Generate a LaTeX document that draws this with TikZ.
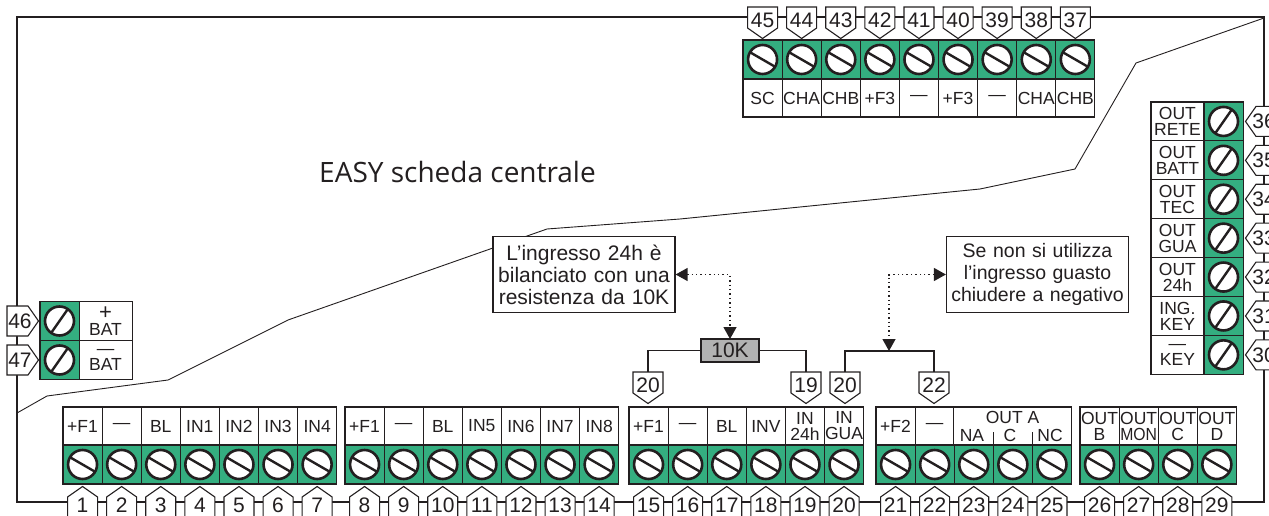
\documentclass[tikz,border=0pt]{standalone}
\usepackage{fontspec}
\setmainfont{Liberation Sans}
\newfontfamily\titlefont{Open Sans}
\usetikzlibrary{positioning,arrows.meta}
\definecolor{termgreen}{HTML}{34AE80}
\definecolor{inkdark}{HTML}{231F20}
\tikzset{
  cellbase/.style={draw=inkdark,line width=1.1pt,inner sep=0pt,outer sep=0pt},
  greencell/.style={cellbase,fill=termgreen,minimum width=39.1pt,minimum height=39pt},
  labelbox/.style={cellbase,fill=white,minimum width=39.1pt,minimum height=38pt,text width=39.1pt,
    align=center,font=\fontsize{17.5}{16}\selectfont,text=inkdark},
  sidebox/.style={labelbox,minimum width=53pt,text width=53pt,minimum height=39pt},
  screwa/.style={circle,draw=inkdark,fill=white,line width=2.6pt,minimum size=29pt,inner sep=0pt,
    path picture={\draw[inkdark,line width=2.4pt] (path picture bounding box.150)--(path picture bounding box.-30);}},
  screwb/.style={circle,draw=inkdark,fill=white,line width=2.6pt,minimum size=29pt,inner sep=0pt,
    path picture={\draw[inkdark,line width=2.4pt] (path picture bounding box.55)--(path picture bounding box.-125);}},
  pinline/.style={draw=inkdark,fill=white,line width=1.1pt},
  pintext/.style={inner sep=0pt,outer sep=0pt,minimum width=30pt,minimum height=26pt,
    font=\fontsize{21}{21}\selectfont,text=inkdark},
  plaintext/.style={font=\fontsize{17.5}{16}\selectfont,text=inkdark},
  notebox/.style={draw=inkdark,line width=1.2pt,fill=white,inner sep=0pt,minimum width=182pt,minimum height=75.5pt,
    text width=180pt,align=center,font=\fontsize{21}{22}\selectfont,text=inkdark},
  wire/.style={draw=inkdark,line width=1.3pt},
  dotwire/.style={draw=inkdark,line width=1.3pt,dash pattern=on 1.4pt off 3pt,
    {Triangle[width=13pt,length=12pt]}-{Triangle[width=13pt,length=12pt]}},
}
% name, x, y, turn of the point (0 = down), number
\newcommand{\pinnode}[5]{%
  \draw[pinline,shift={(#2,#3)},rotate=#4] (-15,-13)--(15,-13)--(15,8)--(0,18.5)--(-15,8)--cycle;
  \node[pintext] (#1) at (#2,#3) {#5};}
\begin{document}
\begin{tikzpicture}[x=1pt,y=-1pt]
  \useasboundingbox (0,0) rectangle (1269,516);
  % board outline and edge
  \draw[inkdark,line width=2.8pt] (17,17) rectangle (1264,502);
  \draw[inkdark,line width=0.9pt] (17,413)--(47,396)--(168,380)--(288,320)--(547,229)--(680,219)--(980,189)--(1075,169)--(1136,63)--(1264,18);
  \node[font=\fontsize{28}{30}\selectfont\titlefont,text=inkdark] (title) at (457.5,172) {EASY scheda centrale};
  % bottom row
  \foreach \x/\first/\last in {63/1/7,345/8/14,629/15/20,876/21/25,1080/26/29}{
    \foreach \n in {\first,...,\last}{
      \node[greencell] (grn\n) at ({\x+39.1*(\n-\first+0.5)},464.5) {};
      \node[screwa] (scr\n) at (grn\n) {};
      \pinnode{pin\n}{{\x+39.1*(\n-\first+0.5)}}{505}{180}{\n}
    }
  }
  \foreach \n/\txt in {1/+F1,2/—,3/BL,4/IN1,5/IN2,6/IN3,7/IN4,8/+F1,9/—,10/BL,11/IN5,12/IN6,13/IN7,14/IN8,
    15/+F1,16/—,17/BL,18/INV,19/{IN\\24h},20/{IN\\GUA},21/+F2,22/—,
    26/{OUT\\B},27/{OUT\\\scalebox{0.9}[1]{MON}},28/{OUT\\C},29/{OUT\\D}}{
    \node[labelbox,above=0pt of grn\n] (lab\n) {\txt};
  }
  \node[labelbox,minimum width=117.3pt,text width=117.3pt] (labA) at (1012.5,426) {};
  \node[plaintext] (outa) at (1012.5,417) {OUT A};
  \node[plaintext] (txta) at (972,435) {NA};
  \node[plaintext] (txtb) at (1010,435) {C};
  \node[plaintext] (txtc) at (1050,435) {NC};
  \draw[inkdark,line width=1.1pt] (grn23.north east)--++(0,-13);
  \draw[inkdark,line width=1.1pt] (grn24.north east)--++(0,-13);
  % top row
  \foreach \n/\txt [count=\i] in {45/SC,44/CHA,43/CHB,42/+F3,41/—,40/+F3,39/—,38/CHA,37/CHB}{
    \node[greencell] (grn\n) at ({743+39.1*(\i-0.5)},59.5) {};
    \node[screwa] (scr\n) at (grn\n) {};
    \node[labelbox,below=0pt of grn\n] (lab\n) {\txt};
    \pinnode{pin\n}{{743+39.1*(\i-0.5)}}{20}{0}{\n}
  }
  % right column
  \foreach \n/\txt [count=\i] in {36/{OUT\\RETE},35/{OUT\\BATT},34/{OUT\\TEC},33/{OUT\\GUA},32/{OUT\\24h},31/{ING.\\KEY},30/{—\\KEY}}{
    \node[greencell,minimum height=38.9pt] (grn\n) at (1223.5,{102+38.9*(\i-0.5)}) {};
    \node[screwb] (scr\n) at (grn\n) {};
    \node[sidebox,minimum height=38.9pt,left=0pt of grn\n] (lab\n) {\txt};
    \pinnode{pin\n}{1264}{{102+38.9*(\i-0.5)}}{-90}{\n}
  }
  % battery
  \foreach \n/\txt/\y in {46/{\fontsize{22}{16}\selectfont +}\\BAT/321,47/—\\BAT/360}{
    \node[greencell] (grn\n) at (59.5,\y) {};
    \node[screwb] (scr\n) at (grn\n) {};
    \node[sidebox,right=0pt of grn\n] (lab\n) {\txt};
    \pinnode{pin\n}{20}{\y}{90}{\n}
  }
  % notes and resistor
  \node[notebox] (noteres) at (584,274.5) {L’ingresso 24h è\\bilanciato con una\\resistenza da 10K};
  \node[notebox,font=\fontsize{19.5}{22}\selectfont] (noteguasto) at (1037.5,274.5) {Se non si utilizza\\l’ingresso guasto\\chiudere a negativo};
  \node[cellbase,fill=black!30,minimum width=58pt,minimum height=23pt,font=\fontsize{21}{21}\selectfont,text=inkdark] (res) at (730,350.5) {10K};
  \pinnode{pinresa}{648}{385}{0}{20}
  \pinnode{pinresb}{806}{385}{0}{19}
  \pinnode{pinguaa}{845}{385}{0}{20}
  \pinnode{pinguab}{934}{385}{0}{22}
  \coordinate (join) at (889,351);
  \draw[wire] (res.west) -| (pinresa.north);
  \draw[wire] (res.east) -| (pinresb.north);
  \draw[wire] (pinguaa.north) |- (join) -| (pinguab.north);
  \draw[dotwire] (noteres.east) -| (res.north);
  \draw[dotwire] (noteguasto.west) -| (join);
\end{tikzpicture}
\end{document}
